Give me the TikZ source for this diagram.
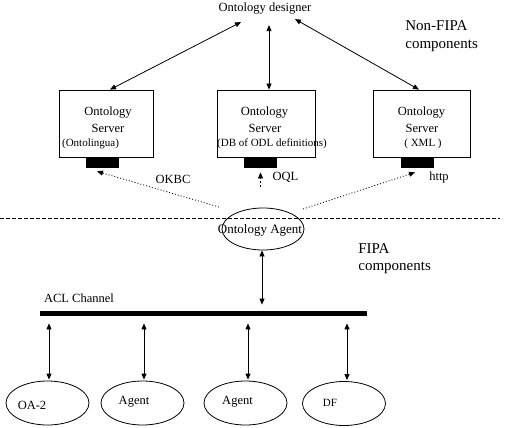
\documentclass[tikz,border=0pt]{standalone}
\usepackage{fontspec}
\setmainfont{Liberation Serif}
\usetikzlibrary{arrows.meta,shapes.geometric,calc}
\begin{document}
\begin{tikzpicture}[x=1pt,y=-1pt,
  every path/.style={line width=0.8pt},
  txt/.style={inner sep=0pt, font=\fontsize{12.5}{14}\selectfont},
  small/.style={inner sep=0pt, font=\fontsize{11}{13}\selectfont},
  big/.style={inner sep=0pt, align=left, font=\fontsize{15}{17.5}\selectfont},
  server/.style={draw, minimum height=67pt, inner sep=0pt},
  port/.style={fill=black, minimum width=33pt, minimum height=11pt, inner sep=0pt},
  oval/.style={draw, ellipse, minimum width=83pt, minimum height=44pt, inner sep=0pt},
  bothtips/.style={{Triangle[length=6pt,width=5pt]}-{Triangle[length=6pt,width=5pt]}},
  onetip/.style={-{Triangle[length=6pt,width=5pt]}},
  dotline/.style={dash pattern=on 1pt off 2pt},
  dashline/.style={dash pattern=on 4pt off 2pt}
]
\fill[white] (0,0) rectangle (517,428);
\useasboundingbox (0,0) rectangle (517,428);

% top
\node[txt] (designer) at (265,9) {Ontology designer};
\node[big, anchor=west] (nonfipa) at (405,36) {Non-FIPA\\components};

% servers
\node[server, minimum width=94pt] (s1) at (106,123.5) {};
\node[server, minimum width=98pt] (s2) at (266,123.5) {};
\node[server, minimum width=97pt] (s3) at (421.5,123.5) {};

\node[txt] (s1a) at (108,113) {Ontology};
\node[txt] (s1b) at (108,128) {Server};
\node[small] (s1c) at (90.5,144) {(Ontolingua)};
\node[txt] (s2a) at (264.5,113) {Ontology};
\node[txt] (s2b) at (265,128) {Server};
\node[small] (s2c) at (272,144) {(DB of ODL definitions)};
\node[txt] (s3a) at (421.5,113) {Ontology};
\node[txt] (s3b) at (422,128) {Server};
\node[small] (s3c) at (423,144) {( XML )};

\node[port] (p1) at (102.5,162.5) {};
\node[port] (p2) at (260.5,162.5) {};
\node[port] (p3) at (417,162.5) {};

% designer arrows
\draw[bothtips] ($(designer.south)+(-24,7)$) -- ($(s1.north)+(4,0)$);
\draw[bothtips] ($(designer.south)+(4,10)$) -- ($(s2.north)+(3,0)$);
\draw[bothtips] ($(designer.south)+(30,4)$) -- ($(s3.north)+(-2.5,0)$);

% separator
\coordinate (sepl) at (0,218);
\coordinate (sepr) at (500,218);
\draw[dashline] (sepl) -- (sepr);

% ontology agent
\node[draw, ellipse, minimum width=82pt, minimum height=42pt, inner sep=0pt] (agent) at (263,229) {};
\node[font=\fontsize{13}{15}\selectfont, inner sep=0pt] (agentt) at (260,230) {Ontology Agent};

% protocol arrows
\draw[onetip, dotline] ($(agent.center)+(-44,-22)$) -- ($(p1.south)+(-5.5,3)$);
\coordinate (oqlstart) at ($(p2.south)+(0,19)$);
\draw[onetip, dash pattern=on 2pt off 2pt] (oqlstart) -- ($(p2.south)+(0,4)$);
\draw[onetip, dotline] ($(agent.center)+(40,-20)$) -- ($(p3.south)+(-2,4)$);
\node[txt] (okbc) at (173,179) {OKBC};
\node[txt] (oql) at (285.5,177) {OQL};
\node[txt] (http) at (439,177) {http};

\node[big, anchor=west] (fipa) at (358,258.5) {FIPA\\components};

% ACL channel
\node[fill=black, minimum width=327pt, minimum height=5pt, inner sep=0pt] (channel) at (203.5,313) {};
\node[txt] (acl) at (79,298) {ACL Channel};
\draw[bothtips] ($(agent.south)+(-1,0)$) -- ($(agent.south |- channel.north)+(-1,-5.5)$);

% agents
\node[oval] (o1) at (47.5,403) {};
\node[oval] (o2) at (142.5,403) {};
\node[oval] (o3) at (245.5,403) {};
\node[oval] (o4) at (344,403.5) {};
\node[txt] (o1t) at (32,405) {OA-2};
\node[txt] (o2t) at (134,402) {Agent};
\node[txt] (o3t) at (237.5,402) {Agent};
\node[small] (o4t) at (330,403) {DF};

\foreach \o/\dx in {o1/1.5, o2/1.5, o3/2.5, o4/3} {
  \draw[bothtips] ($(\o.north |- channel.south)+(\dx,7.5)$) -- ($(\o.north)+(\dx,-1)$);
}
\end{tikzpicture}
\end{document}
